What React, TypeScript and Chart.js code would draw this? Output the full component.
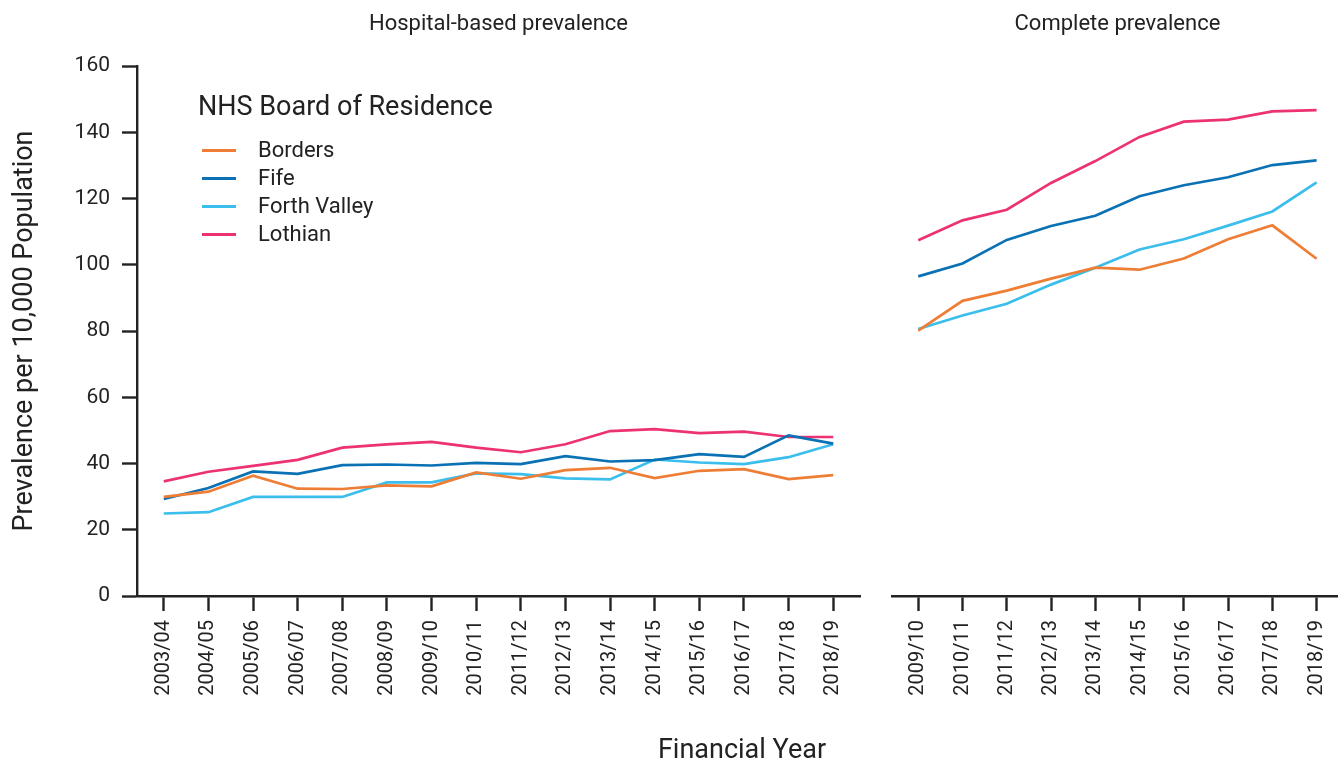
import React, { useEffect, useRef } from "react";
import { Chart, registerables } from "chart.js";

Chart.register(...registerables);

const hospitalYears = [
  "2003/04", "2004/05", "2005/06", "2006/07", "2007/08", "2008/09", "2009/10", "2010/11",
  "2011/12", "2012/13", "2013/14", "2014/15", "2015/16", "2016/17", "2017/18", "2018/19",
];
const completeYears = [
  "2009/10", "2010/11", "2011/12", "2012/13", "2013/14", "2014/15", "2015/16", "2016/17", "2017/18", "2018/19",
];

const boards = ["Borders", "Fife", "Forth Valley", "Lothian"];
const boardColors = ["#EE7E36", "#0A71B4", "#3BBEEC", "#ED3274"];

const hospitalBorders = [29.9, 31.5, 36.3, 32.4, 32.3, 33.4, 33.1, 37.3, 35.4, 38.0, 38.7, 35.6, 37.8, 38.3, 35.3, 36.5];
const hospitalFife = [29.3, 32.6, 37.6, 36.9, 39.5, 39.7, 39.4, 40.2, 39.8, 42.2, 40.6, 41.0, 42.8, 42.0, 48.5, 46.0];
const hospitalForthValley = [24.9, 25.3, 29.9, 29.9, 29.9, 34.3, 34.3, 37.0, 36.8, 35.5, 35.2, 41.2, 40.3, 39.8, 41.9, 45.8];
const hospitalLothian = [34.6, 37.5, 39.3, 41.1, 44.8, 45.8, 46.5, 44.8, 43.4, 45.8, 49.8, 50.4, 49.2, 49.6, 48.0, 48.0];

const completeBorders = [80.1, 89.1, 92.2, 95.8, 99.1, 98.5, 101.9, 107.7, 111.9, 101.8];
const completeFife = [96.5, 100.4, 107.5, 111.7, 114.8, 120.7, 124.0, 126.4, 130.1, 131.5];
const completeForthValley = [80.6, 84.7, 88.2, 94.0, 99.1, 104.6, 107.7, 111.8, 116.1, 124.9];
const completeLothian = [107.4, 113.4, 116.6, 124.7, 131.3, 138.6, 143.2, 143.8, 146.3, 146.7];

const yTickStep = 20;
const yMin = 0;
const yMax = 160;

const FONT = 'Roboto, "Noto Sans", sans-serif';
const TEXT = "#222222";
const AXIS = "#222222";

const insideLegend = {
  id: "insideLegend",
  afterDatasetsDraw(chart: any, _args: any, opts: any) {
    if (!opts || !opts.display) return;
    const ctx = chart.ctx;
    ctx.save();
    ctx.fillStyle = TEXT;
    ctx.textAlign = "left";
    ctx.textBaseline = "middle";
    ctx.font = `${opts.titleSize}px ${FONT}`;
    ctx.fillText(opts.title, opts.titleX, opts.titleY);
    chart.data.datasets.forEach((ds: any, i: number) => {
      const y = opts.itemY + i * opts.itemGap;
      ctx.strokeStyle = ds.borderColor;
      ctx.lineWidth = opts.lineWidth;
      ctx.beginPath();
      ctx.moveTo(opts.lineX, y);
      ctx.lineTo(opts.lineX + opts.lineLen, y);
      ctx.stroke();
      ctx.font = `${opts.labelSize}px ${FONT}`;
      ctx.fillText(ds.label, opts.textX, y + opts.textShift);
    });
    ctx.restore();
  },
};

function makeDatasets(series: number[][]) {
  return series.map((vals, i) => ({
    label: boards[i],
    data: vals.map((v, k) => ({ x: k, y: v })),
    borderColor: boardColors[i],
    backgroundColor: boardColors[i],
    borderWidth: 2.7,
    pointRadius: 0,
    tension: 0,
    fill: false,
  }));
}

function makeConfig(opts: {
  labels: string[];
  series: number[][];
  title: string;
  showY: boolean;
  padLeft: number;
  padRight: number;
  legend: boolean;
}): any {
  const { labels } = opts;
  return {
    type: "line",
    data: { datasets: makeDatasets(opts.series) },
    options: {
      animation: false,
      responsive: true,
      maintainAspectRatio: false,
      layout: { padding: { left: opts.padLeft, right: opts.padRight, top: 0, bottom: 0 } },
      plugins: {
        legend: { display: false },
        tooltip: { enabled: false },
        title: {
          display: true,
          fullSize: false,
          text: opts.title,
          color: TEXT,
          font: { family: FONT, size: 22, weight: "normal" },
          padding: { top: 11, bottom: 28.6 },
        },
        insideLegend: {
          display: opts.legend,
          title: "NHS Board of Residence",
          titleSize: 27,
          labelSize: 22,
          titleX: 198,
          titleY: 108,
          itemY: 150.5,
          itemGap: 28,
          lineX: 202,
          lineLen: 34,
          lineWidth: 3,
          textX: 258,
          textShift: 1,
        },
      },
      scales: {
        x: {
          type: "linear",
          min: -0.6,
          max: labels.length - 1 + 0.6,
          bounds: "data",
          afterBuildTicks: (s: any) => {
            s.ticks = labels.map((_, i) => ({ value: i }));
          },
          afterFit: (s: any) => {
            s.height = 167;
          },
          grid: {
            drawOnChartArea: false,
            drawTicks: true,
            tickLength: 15,
            tickWidth: 2.4,
            tickColor: AXIS,
          },
          border: { display: true, color: AXIS, width: 2.4 },
          ticks: {
            autoSkip: false,
            maxRotation: 90,
            minRotation: 90,
            padding: 9,
            color: TEXT,
            font: { family: FONT, size: 20 },
            callback: (v: any) => labels[Math.round(Number(v))] ?? "",
          },
        },
        y: {
          display: opts.showY,
          min: yMin,
          max: yMax,
          afterFit: (s: any) => {
            if (opts.showY) s.width = 137;
          },
          grid: {
            drawOnChartArea: false,
            drawTicks: true,
            tickLength: 15,
            tickWidth: 2.4,
            tickColor: AXIS,
          },
          border: { display: true, color: AXIS, width: 2.4 },
          ticks: {
            stepSize: yTickStep,
            padding: 12,
            color: TEXT,
            font: { family: FONT, size: 21 },
          },
          title: {
            display: true,
            text: "Prevalence per 10,000 Population",
            color: TEXT,
            font: { family: FONT, size: 27 },
            padding: { top: 9, bottom: 0 },
          },
        },
      },
    },
    plugins: opts.legend ? [insideLegend] : [],
  };
}

export default function App() {
  const leftRef = useRef<HTMLCanvasElement>(null);
  const rightRef = useRef<HTMLCanvasElement>(null);

  useEffect(() => {
    const left = new Chart(
      leftRef.current!,
      makeConfig({
        labels: hospitalYears,
        series: [hospitalBorders, hospitalFife, hospitalForthValley, hospitalLothian],
        title: "Hospital-based prevalence",
        showY: true,
        padLeft: 0,
        padRight: 20,
        legend: true,
      })
    );
    const right = new Chart(
      rightRef.current!,
      makeConfig({
        labels: completeYears,
        series: [completeBorders, completeFife, completeForthValley, completeLothian],
        title: "Complete prevalence",
        showY: false,
        padLeft: 21.7,
        padRight: 3,
        legend: false,
      })
    );
    return () => {
      left.destroy();
      right.destroy();
    };
  }, []);

  return (
    <div
      style={{
        position: "absolute",
        left: 0,
        top: 0,
        width: 1338,
        height: 763,
        overflow: "hidden",
        background: "#ffffff",
      }}
    >
      <div style={{ position: "absolute", left: 0, top: 0, width: 880, height: 763 }}>
        <canvas ref={leftRef} />
      </div>
      <div style={{ position: "absolute", left: 870, top: 0, width: 480, height: 763 }}>
        <canvas ref={rightRef} />
      </div>
      <div
        style={{
          position: "absolute",
          left: 442,
          top: 734,
          width: 600,
          textAlign: "center",
          fontFamily: FONT,
          fontSize: 27,
          lineHeight: "30px",
          color: TEXT,
        }}
      >
        Financial Year
      </div>
    </div>
  );
}
